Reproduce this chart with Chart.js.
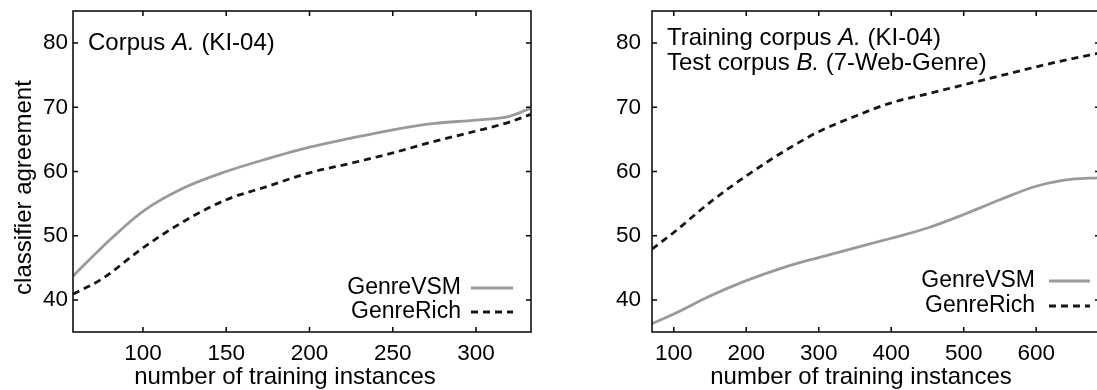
<!DOCTYPE html>
<html>
<head>
<meta charset="utf-8">
<script src="https://cdn.jsdelivr.net/npm/chart.js@4/dist/chart.umd.min.js"></script>
<style>
html, body { margin: 0; padding: 0; background: #fff; overflow: hidden; }
#wrap { position: relative; width: 1097px; height: 390px; overflow: hidden; }
canvas { position: absolute; top: 0; }
#chartA { left: 0; }
#chartB { left: 545px; }
</style>
</head>
<body>
<div id="wrap">
<canvas id="chartA" width="545" height="390"></canvas>
<canvas id="chartB" width="560" height="390"></canvas>
</div>
<script>
// corpus A: training instances vs classifier agreement (%)
let xA = [58, 75, 100, 125, 150, 175, 200, 225, 250, 275, 300, 320, 333];
let vsmA = [43.7, 48.1, 53.8, 57.5, 60.0, 62.0, 63.8, 65.2, 66.5, 67.5, 68.0, 68.6, 69.9];
let richA = [40.9, 43.2, 48.1, 52.3, 55.6, 57.7, 59.8, 61.3, 62.9, 64.7, 66.3, 67.7, 68.9];

// trained on corpus A, tested on corpus B
let xB = [70, 100, 150, 200, 250, 300, 350, 400, 450, 500, 550, 600, 650, 685];
let vsmB = [36.3, 37.8, 40.6, 43.0, 45.0, 46.6, 48.1, 49.6, 51.2, 53.3, 55.6, 57.7, 58.8, 59.0];
let richB = [47.9, 50.5, 55.2, 59.3, 63.0, 66.2, 68.6, 70.7, 72.1, 73.5, 74.9, 76.3, 77.6, 78.4];

let yTicks = [40, 50, 60, 70, 80];
let xTicksA = [100, 150, 200, 250, 300];
let xTicksB = [100, 200, 300, 400, 500, 600];

const FONT = '"Liberation Sans", Arial, Helvetica, sans-serif';

function pts(xs, ys) {
    return xs.map((x, i) => ({x: x, y: ys[i]}));
}

// box around the plot with inward ticks on all four sides
const frame = {
    id: 'frame',
    afterDraw(chart) {
        const {ctx, chartArea: a, scales} = chart;
        ctx.save();
        ctx.strokeStyle = '#000';
        ctx.lineWidth = 1.5;
        ctx.strokeRect(a.left, a.top, a.right - a.left, a.bottom - a.top);
        ctx.beginPath();
        scales.x.ticks.forEach(t => {
            let px = scales.x.getPixelForValue(t.value);
            ctx.moveTo(px, a.bottom); ctx.lineTo(px, a.bottom - 5);
            ctx.moveTo(px, a.top); ctx.lineTo(px, a.top + 5);
        });
        scales.y.ticks.forEach(t => {
            let py = scales.y.getPixelForValue(t.value);
            ctx.moveTo(a.left, py); ctx.lineTo(a.left + 5, py);
            ctx.moveTo(a.right, py); ctx.lineTo(a.right - 5, py);
        });
        ctx.stroke();
        ctx.restore();
    }
};

// gnuplot style key: label first, line sample after it
const key = {
    id: 'key',
    afterDatasetsDraw(chart, args, opts) {
        const {ctx, chartArea: a} = chart;
        ctx.save();
        ctx.font = '23px ' + FONT;
        ctx.textAlign = 'right';
        ctx.textBaseline = 'middle';
        chart.data.datasets.forEach((ds, i) => {
            let y = a.top + opts.top + i * opts.gap;
            ctx.fillStyle = '#000';
            ctx.fillText(ds.label, a.right - opts.textRight, y);
            ctx.strokeStyle = ds.borderColor;
            ctx.lineWidth = ds.borderWidth;
            ctx.setLineDash(ds.borderDash || []);
            ctx.beginPath();
            ctx.moveTo(a.right - opts.lineFrom, y);
            ctx.lineTo(a.right - opts.lineTo, y);
            ctx.stroke();
        });
        ctx.restore();
    }
};

// corner caption, parts flagged true are set in italics
const note = {
    id: 'note',
    afterDraw(chart, args, opts) {
        const {ctx, chartArea: a} = chart;
        ctx.save();
        ctx.fillStyle = '#000';
        ctx.textBaseline = 'alphabetic';
        opts.lines.forEach((line, i) => {
            let x = a.left + opts.left;
            let y = a.top + opts.top + i * opts.gap;
            line.forEach(part => {
                ctx.font = (part[1] ? 'italic ' : '') + '24px ' + FONT;
                ctx.fillText(part[0], x, y);
                x += ctx.measureText(part[0]).width;
            });
        });
        ctx.restore();
    }
};

// axis titles, nudged off centre the way gnuplot placed them
const axisTitles = {
    id: 'axisTitles',
    afterDraw(chart, args, opts) {
        const {ctx, chartArea: a} = chart;
        ctx.save();
        ctx.fillStyle = '#000';
        ctx.font = '24px ' + FONT;
        ctx.textAlign = 'center';
        ctx.textBaseline = 'middle';
        if (opts.x) {
            ctx.fillText(opts.x, (a.left + a.right) / 2 + opts.xShift, opts.xY);
        }
        if (opts.y) {
            ctx.translate(opts.yX, (a.top + a.bottom) / 2 + opts.yShift);
            ctx.rotate(-Math.PI / 2);
            ctx.fillText(opts.y, 0, 0);
        }
        ctx.restore();
    }
};

function makeChart(id, xs, vsm, rich, xMin, xMax, xTicks, cfg) {
    return new Chart(document.getElementById(id).getContext('2d'), {
        type: 'line',
        data: {
            datasets: [{
                label: 'GenreVSM',
                data: pts(xs, vsm),
                borderColor: '#9a9a9a',
                borderWidth: 2.8,
                pointRadius: 0,
                cubicInterpolationMode: 'monotone'
            }, {
                label: 'GenreRich',
                data: pts(xs, rich),
                borderColor: '#161616',
                borderWidth: 2.8,
                borderDash: [7, 5],
                pointRadius: 0,
                cubicInterpolationMode: 'monotone'
            }]
        },
        options: {
            responsive: false,
            animation: false,
            devicePixelRatio: 1,
            layout: {padding: {top: 11, right: cfg.padRight, bottom: 0, left: 0}},
            plugins: {
                legend: {display: false},
                tooltip: {enabled: false},
                key: cfg.key,
                note: cfg.note,
                axisTitles: cfg.titles
            },
            scales: {
                x: {
                    type: 'linear',
                    min: xMin,
                    max: xMax,
                    afterBuildTicks: s => { s.ticks = xTicks.map(v => ({value: v})); },
                    afterFit: s => { s.height = 58; s.paddingLeft = 0; s.paddingRight = 0; },
                    grid: {display: false, drawTicks: false},
                    border: {display: false},
                    ticks: {color: '#000', font: {family: FONT, size: 22.5}, padding: 8, maxRotation: 0}
                },
                y: {
                    min: 35,
                    max: 85,
                    afterBuildTicks: s => { s.ticks = yTicks.map(v => ({value: v})); },
                    afterFit: s => { s.width = cfg.yWidth; s.paddingTop = 0; s.paddingBottom = 0; },
                    grid: {display: false, drawTicks: false},
                    border: {display: false},
                    ticks: {color: '#000', font: {family: FONT, size: 22.5}, padding: cfg.yPad}
                }
            }
        },
        plugins: [frame, key, note, axisTitles]
    });
}

makeChart('chartA', xA, vsmA, richA, 58, 333, xTicksA, {
    padRight: 14,
    yWidth: 73,
    yPad: 5,
    key: {top: 277, gap: 24, textRight: 70, lineFrom: 60, lineTo: 18},
    note: {left: 15, top: 39, gap: 25, lines: [[['Corpus ', false], ['A.', true], [' (KI-04)', false]]]},
    titles: {x: 'number of training instances', xShift: -17, xY: 377,
             y: 'classifier agreement', yX: 24, yShift: 16}
});

makeChart('chartB', xB, vsmB, richB, 70, 688, xTicksB, {
    padRight: 5,
    yWidth: 107,
    yPad: 11,
    key: {top: 270, gap: 25, textRight: 65, lineFrom: 51, lineTo: 10},
    note: {left: 15, top: 34, gap: 25, lines: [
        [['Training corpus ', false], ['A.', true], [' (KI-04)', false]],
        [['Test corpus ', false], ['B.', true], [' (7-Web-Genre)', false]]
    ]},
    titles: {x: 'number of training instances', xShift: -15, xY: 377}
});
</script>
</body>
</html>
